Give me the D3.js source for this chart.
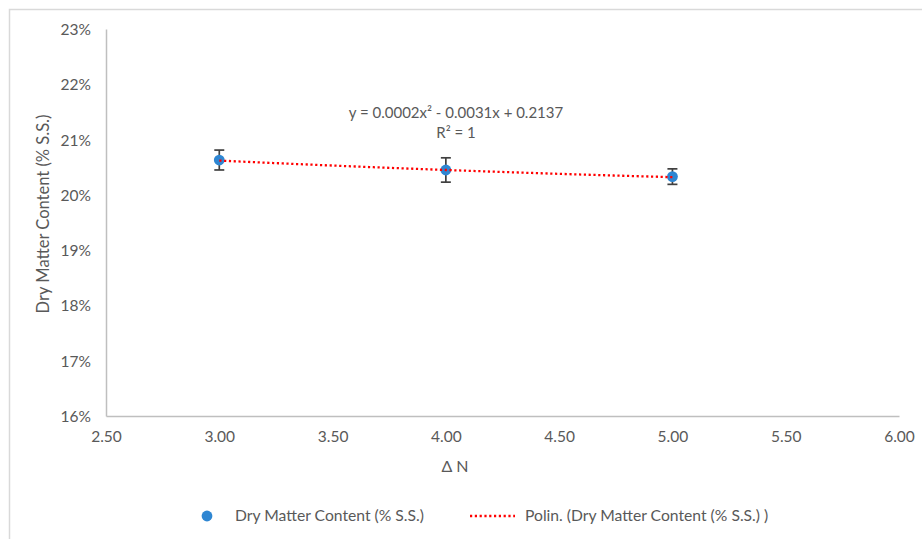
<!DOCTYPE html>
<html>
<head>
<meta charset="utf-8">
<script src="https://cdn.jsdelivr.net/npm/d3@7"></script>
<style>
  html, body { margin: 0; padding: 0; background: #fff; }
  svg { display: block; }
  text { font-family: Lato, "Open Sans", sans-serif; fill: #595959; }
</style>
</head>
<body>
<script>
// Dry matter content against ΔN, with standard-error bars and a 2nd-order fit
const deltaN = [3.00, 4.00, 5.00];
const dryMatter = [0.2063, 0.2045, 0.2033];
const dryMatterErr = [0.0018, 0.0022, 0.0014];
const fitCoeffs = [0.0002, -0.0031, 0.2137]; // a, b, c  for  a·x² + b·x + c
const fitLabel = ["y = 0.0002x² - 0.0031x + 0.2137", "R² = 1"];
const xTicks = [2.5, 3, 3.5, 4, 4.5, 5, 5.5, 6];
const yTicks = [0.16, 0.17, 0.18, 0.19, 0.20, 0.21, 0.22, 0.23];
const seriesName = "Dry Matter Content (% S.S.)";
const trendName = "Polin. (Dry Matter Content (% S.S.) )";
const xTitle = "Δ N";
const yTitle = "Dry Matter Content (% S.S.)";

const W = 922, H = 539;
const plot = { left: 106, right: 899, top: 29, bottom: 416 };

const svg = d3.select("body").append("svg").attr("width", W).attr("height", H);

// Chart frame
svg.append("path")
  .attr("d", `M9.5,${H} L9.5,9.5 L${W},9.5`)
  .attr("fill", "none").attr("stroke", "#d9d9d9").attr("stroke-width", 1.5);

const x = d3.scaleLinear().domain([2.5, 6]).range([plot.left, plot.right]);
const y = d3.scaleLinear().domain([0.16, 0.23]).range([plot.bottom, plot.top]);

// Axes
const xAxis = svg.append("g").attr("transform", `translate(0,${plot.bottom})`)
  .call(d3.axisBottom(x).tickValues(xTicks).tickFormat(d3.format(".2f")).tickSize(0).tickPadding(15));
const yAxis = svg.append("g").attr("transform", `translate(${plot.left},0)`)
  .call(d3.axisLeft(y).tickValues(yTicks).tickFormat(d3.format(".0%")).tickSize(0).tickPadding(15));
[xAxis, yAxis].forEach(g => {
  g.select(".domain").attr("stroke", "#bfbfbf").attr("stroke-width", 1.5);
  g.selectAll("text").style("font-family", "Lato, sans-serif").style("font-size", "15.5px").attr("fill", "#595959");
});
yAxis.selectAll("text").attr("dy", "0.35em");

// Axis titles
svg.append("text")
  .attr("x", 455).attr("y", 472)
  .attr("text-anchor", "middle").style("font-size", "16px").text(xTitle);
svg.append("text")
  .attr("transform", `translate(49,214) rotate(-90)`)
  .attr("text-anchor", "middle").style("font-size", "16.5px").text(yTitle);

// Polynomial trendline over the data range
const fit = v => fitCoeffs[0] * v * v + fitCoeffs[1] * v + fitCoeffs[2];
const xs = d3.range(0, 101).map(i => deltaN[0] + (deltaN[deltaN.length - 1] - deltaN[0]) * i / 100);
const trendPath = d3.line().x(d => x(d)).y(d => y(fit(d)));

// Error bars
const pts = deltaN.map((d, i) => ({ x: d, y: dryMatter[i], e: dryMatterErr[i] }));
const eb = svg.append("g").attr("stroke", "#404040").attr("stroke-width", 1.7);
pts.forEach(p => {
  const cx = x(p.x), y0 = y(p.y - p.e), y1 = y(p.y + p.e);
  eb.append("line").attr("x1", cx).attr("x2", cx).attr("y1", y0).attr("y2", y1);
  eb.append("line").attr("x1", cx - 5).attr("x2", cx + 5).attr("y1", y0).attr("y2", y0);
  eb.append("line").attr("x1", cx - 5).attr("x2", cx + 5).attr("y1", y1).attr("y2", y1);
});

// Markers
svg.append("g").selectAll("circle").data(pts).join("circle")
  .attr("cx", d => x(d.x)).attr("cy", d => y(d.y)).attr("r", 5.4)
  .attr("fill", "#2e86d2");

// Dotted trendline, drawn over the markers
svg.append("path")
  .datum(xs)
  .attr("d", trendPath)
  .attr("fill", "none").attr("stroke", "#ff0000").attr("stroke-width", 2.3)
  .attr("stroke-dasharray", "2.2,2.6");

// Fit equation
const eq = svg.append("text").attr("text-anchor", "middle").style("font-size", "15px");
eq.append("tspan").attr("x", 456).attr("y", 118).text(fitLabel[0]);
eq.append("tspan").attr("x", 456).attr("y", 138).text(fitLabel[1]);

// Legend
const lg = svg.append("g");
lg.append("circle").attr("cx", 207).attr("cy", 516).attr("r", 5.4).attr("fill", "#2e86d2");
lg.append("text").attr("x", 235).attr("y", 521).style("font-size", "15.7px").text(seriesName);
lg.append("line").attr("x1", 470).attr("x2", 515).attr("y1", 516).attr("y2", 516)
  .attr("stroke", "#ff0000").attr("stroke-width", 2.3).attr("stroke-dasharray", "2.2,2.6");
lg.append("text").attr("x", 525).attr("y", 521).style("font-size", "15.7px").text(trendName);
</script>
</body>
</html>
